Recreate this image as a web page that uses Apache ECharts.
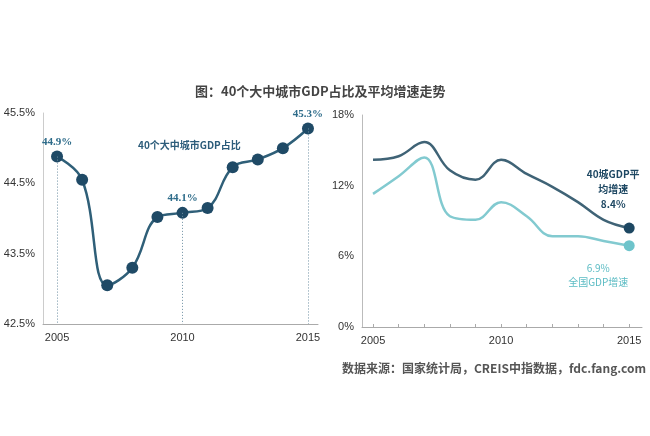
<!DOCTYPE html>
<html lang="zh">
<head>
<meta charset="UTF-8">
<title>40个大中城市GDP占比及平均增速走势</title>
<script src="https://cdn.jsdelivr.net/npm/echarts@6/dist/echarts.min.js"></script>
<style>
  html, body { margin: 0; padding: 0; background: #fff; }
  #chart { width: 650px; height: 436px; }
</style>
</head>
<body>
<div id="chart"></div>
<script>
// 年份
var years = [2005, 2006, 2007, 2008, 2009, 2010, 2011, 2012, 2013, 2014, 2015];
// 40个大中城市GDP占比 (%)
var gdpShare = [44.88, 44.55, 43.05, 43.3, 44.02, 44.08, 44.15, 44.73, 44.84, 45.0, 45.28];
// 40城GDP平均增速 (%)
var cityGrowth = [14.2, 14.5, 15.7, 13.3, 12.5, 14.2, 13.0, 11.9, 10.6, 9.1, 8.4];
// 全国GDP增速 (%)
var nationGrowth = [11.3, 12.8, 14.4, 9.4, 9.1, 10.6, 9.4, 7.7, 7.7, 7.3, 6.9];
// 刻度
var leftYTicks = [42.5, 43.5, 44.5, 45.5];
var xLabelYears = [2005, 2010, 2015];
var labeledYears = [2005, 2010, 2015];

var sans = '"Noto Sans CJK SC", "Noto Sans", sans-serif';
var serif = '"Liberation Serif", "DejaVu Serif", "Noto Sans CJK SC", serif';

function pairs(vals, opt) {
    return years.map(function (y, i) {
        var item = { value: [y, vals[i]] };
        if (opt) opt(item, y, i);
        return item;
    });
}

var shareData = pairs(gdpShare, function (item, y) {
    if (labeledYears.indexOf(y) >= 0) {
        item.label = { show: true };
    }
});

var cityData = pairs(cityGrowth, function (item, y, i) {
    if (i === years.length - 1) {
        item.symbol = 'circle';
        item.symbolSize = 11;
        item.label = {
            show: true,
            position: 'top',
            offset: [-16, -6],
            align: 'center',
            lineHeight: 15,
            color: '#1d4762',
            fontFamily: sans,
            fontWeight: 'bold',
            fontSize: 10,
            formatter: '40城GDP平\n均增速\n' + cityGrowth[i].toFixed(1) + '%'
        };
    }
});

var nationData = pairs(nationGrowth, function (item, y, i) {
    if (i === years.length - 1) {
        item.symbol = 'circle';
        item.symbolSize = 11;
        item.label = {
            show: true,
            position: 'bottom',
            offset: [-31, 5],
            align: 'center',
            lineHeight: 14,
            color: '#5cbcc4',
            fontFamily: sans,
            fontSize: 10,
            formatter: nationGrowth[i].toFixed(1) + '%\n全国GDP增速'
        };
    }
});

var dropLines = labeledYears.map(function (y) {
    var v = gdpShare[years.indexOf(y)];
    return [{ coord: [y, v] }, { coord: [y, 42.5] }];
});

function yearLabel(v) { return String(Math.round(v)); }

var chart = echarts.init(document.getElementById('chart'));
chart.setOption({
    animation: false,
    backgroundColor: '#fff',
    title: {
        text: '图：40个大中城市GDP占比及平均增速走势',
        left: 190,
        top: 80,
        textStyle: { fontFamily: sans, fontSize: 13, fontWeight: 'bold', color: '#444' }
    },
    graphic: [
        {
            type: 'text', left: 138, top: 140,
            style: { text: '40个大中城市GDP占比', fill: '#2c5c7a', font: 'bold 10px ' + sans }
        },
        {
            type: 'text', left: 342, top: 362,
            style: { text: '数据来源：国家统计局，CREIS中指数据，fdc.fang.com', fill: '#555', font: 'bold 12px ' + sans }
        }
    ],
    grid: [
        { left: 43, top: 113, width: 275, height: 211 },
        { left: 362, top: 115, width: 280, height: 212 }
    ],
    xAxis: [
        {
            gridIndex: 0, type: 'value', min: 2004.44, max: 2015.4,
            splitLine: { show: false },
            axisLine: { show: true, lineStyle: { color: '#aaa' } },
            axisTick: { show: false },
            axisLabel: {
                customValues: xLabelYears, color: '#333', fontSize: 11,
                fontFamily: '"Liberation Sans", Arial, sans-serif', margin: 8,
                formatter: yearLabel
            }
        },
        {
            gridIndex: 1, type: 'value', min: 2004.57, max: 2015.5,
            splitLine: { show: false },
            axisLine: { show: true, lineStyle: { color: '#aaa' } },
            axisTick: { show: true, inside: true, length: 3, customValues: years, lineStyle: { color: '#aaa' } },
            axisLabel: {
                customValues: xLabelYears, color: '#333', fontSize: 11,
                fontFamily: '"Liberation Sans", Arial, sans-serif', margin: 8,
                formatter: yearLabel
            }
        }
    ],
    yAxis: [
        {
            gridIndex: 0, type: 'value', min: 42.5, max: 45.5,
            splitLine: { show: false },
            axisLine: { show: true, lineStyle: { color: '#ccc' } },
            axisTick: { show: false },
            axisLabel: {
                customValues: leftYTicks, color: '#333', fontSize: 11,
                fontFamily: '"Liberation Sans", Arial, sans-serif', margin: 8,
                formatter: function (v) { return v.toFixed(1) + '%'; }
            }
        },
        {
            gridIndex: 1, type: 'value', min: 0, max: 18, interval: 6,
            splitLine: { show: false },
            axisLine: { show: true, lineStyle: { color: '#bbb' } },
            axisTick: { show: false },
            axisLabel: {
                color: '#333', fontSize: 11,
                fontFamily: '"Liberation Sans", Arial, sans-serif', margin: 8,
                formatter: '{value}%'
            }
        }
    ],
    series: [
        {
            name: '40个大中城市GDP占比',
            type: 'line', xAxisIndex: 0, yAxisIndex: 0,
            data: shareData,
            smooth: 0.4,
            symbol: 'circle', symbolSize: 12,
            lineStyle: { color: '#2f5f78', width: 2.5 },
            itemStyle: { color: '#1f4a66' },
            label: {
                show: false, position: 'top', distance: 3,
                color: '#2e6c8a', fontFamily: serif, fontWeight: 'bold', fontSize: 11,
                formatter: function (p) { return p.value[1].toFixed(1) + '%'; }
            },
            markLine: {
                silent: true, symbol: 'none',
                label: { show: false },
                lineStyle: { color: '#6f90a3', type: [1, 2], width: 1 },
                data: dropLines
            },
            z: 3
        },
        {
            name: '40城GDP平均增速',
            type: 'line', xAxisIndex: 1, yAxisIndex: 1,
            data: cityData,
            smooth: 0.4,
            symbol: 'none',
            lineStyle: { color: '#3f6376', width: 2.5 },
            itemStyle: { color: '#1d4762' },
            z: 3
        },
        {
            name: '全国GDP增速',
            type: 'line', xAxisIndex: 1, yAxisIndex: 1,
            data: nationData,
            smooth: 0.4,
            symbol: 'none',
            lineStyle: { color: '#82cad0', width: 2.5 },
            itemStyle: { color: '#6ec4cb' },
            z: 2
        }
    ]
});
</script>
</body>
</html>
